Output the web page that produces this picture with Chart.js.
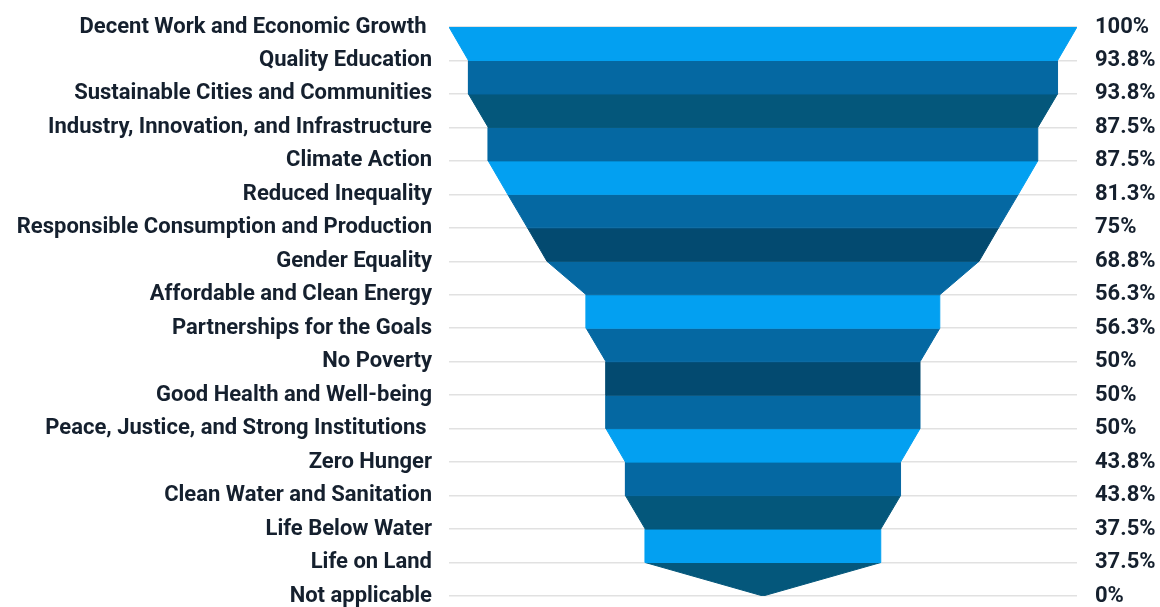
<!DOCTYPE html>
<html lang="en">
<head>
    <meta charset="UTF-8">
    <title>SDG funnel</title>
    <script src="https://cdn.jsdelivr.net/npm/chart.js"></script>
    <style>
        body {
            margin: 0;
            font-family: Roboto, Arial, sans-serif;
            background: linear-gradient(100deg, #fbe9ea 0%, #f3f6ee 12%, #f2f6ef 22%, #ffffff 40%);
        }
        .card {
            position: absolute;
            left: 11px;
            top: 16px;
            right: 0;
            bottom: 0;
            background: #fff;
        }
        .wrap {
            position: absolute;
            left: 0;
            top: 0;
            width: 1160px;
            height: 607px;
        }
    </style>
</head>
<body>
    <div class="card"></div>
    <div class="wrap">
        <canvas id="funnel" width="1160" height="607"></canvas>
    </div>
    <script>
        // SDG categories, top to bottom
        const categories = [
            'Decent Work and Economic Growth ',
            'Quality Education',
            'Sustainable Cities and Communities',
            'Industry, Innovation, and Infrastructure',
            'Climate Action',
            'Reduced Inequality',
            'Responsible Consumption and Production',
            'Gender Equality',
            'Affordable and Clean Energy',
            'Partnerships for the Goals',
            'No Poverty',
            'Good Health and Well-being',
            'Peace, Justice, and Strong Institutions ',
            'Zero Hunger',
            'Clean Water and Sanitation',
            'Life Below Water',
            'Life on Land',
            'Not applicable'
        ];
        const percents = [100, 93.8, 93.8, 87.5, 87.5, 81.3, 75, 68.8, 56.3, 56.3, 50, 50, 50, 43.8, 43.8, 37.5, 37.5, 0];

        // band colours between consecutive levels
        const LIGHT = '#03a0f1', MID = '#0568a2', DARK = '#04577b', DARKER = '#034a70';
        const bandColors = [LIGHT, MID, DARK, MID, LIGHT, MID, DARKER, MID, LIGHT, MID, DARKER, MID, LIGHT, MID, DARK, LIGHT, DARK];

        // each band is a closed shape: left-top, left-bottom, right-bottom, right-top
        const datasets = [];
        for (let i = 0; i < percents.length - 1; i++) {
            const a = percents[i] / 2, b = percents[i + 1] / 2;
            datasets.push({
                data: [
                    { x: -a, y: i },
                    { x: -b, y: i + 1 },
                    { x: b, y: i + 1 },
                    { x: a, y: i }
                ],
                showLine: true,
                fill: 'shape',
                backgroundColor: bandColors[i],
                borderColor: bandColors[i],
                borderWidth: 1,
                pointRadius: 0,
                pointHoverRadius: 0,
                tension: 0
            });
        }

        const tickFont = { family: 'Roboto', size: 22, weight: 'bold' };
        const textColor = '#15202e';

        // let layout padding decide the plot's top and bottom
        function fitAxis(width) {
            return (s) => {
                s.width = width;
                s.paddingTop = 0;
                s.paddingBottom = 0;
            };
        }

        new Chart(document.getElementById('funnel'), {
            type: 'scatter',
            data: { datasets: datasets },
            options: {
                responsive: false,
                animation: false,
                layout: { padding: { top: 27, bottom: 11 } },
                plugins: {
                    legend: { display: false },
                    tooltip: { enabled: false }
                },
                scales: {
                    x: {
                        display: false,
                        min: -50,
                        max: 50
                    },
                    y: {
                        position: 'left',
                        reverse: true,
                        min: 0,
                        max: categories.length - 1,
                        border: { display: false },
                        grid: { color: '#e1e1e1', lineWidth: 1.5, drawTicks: false },
                        afterFit: fitAxis(449),
                        ticks: {
                            stepSize: 1,
                            autoSkip: false,
                            padding: 17,
                            color: textColor,
                            font: tickFont,
                            callback: (v) => categories[v]
                        }
                    },
                    y2: {
                        position: 'right',
                        reverse: true,
                        min: 0,
                        max: categories.length - 1,
                        border: { display: false },
                        grid: { display: false, drawTicks: false },
                        afterFit: fitAxis(83),
                        ticks: {
                            stepSize: 1,
                            autoSkip: false,
                            padding: 18,
                            color: textColor,
                            font: tickFont,
                            callback: (v) => percents[v] + '%'
                        }
                    }
                }
            }
        });
    </script>
</body>
</html>
